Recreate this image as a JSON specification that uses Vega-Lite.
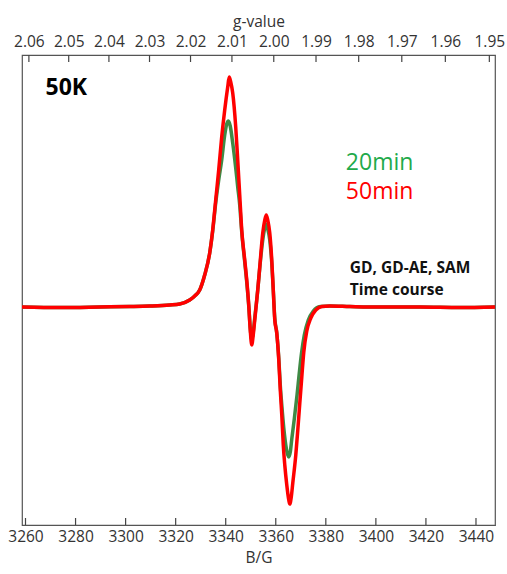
{
  "$schema": "https://vega.github.io/schema/vega-lite/v6.json",
  "width": 473,
  "height": 470,
  "autosize": "none",
  "padding": {"left": 22, "top": 55, "right": 12, "bottom": 49},
  "background": "white",
  "config": {
    "view": {"stroke": "#555", "strokeWidth": 1.2},
    "font": "Open Sans",
    "axis": {"labelFont": "Open Sans", "titleFont": "Open Sans", "labelFontSize": 15.5, "titleFontSize": 15.5, "titleFontWeight": "normal", "labelColor": "#333", "titleColor": "#333", "domainColor": "#555", "ticks": false, "grid": false}
  },
  "datasets": {
    "spec": [
      {"B": 3258.6, "y": 0, "s": "20min"}, {"B": 3273.6, "y": -0.5, "s": "20min"}, {"B": 3289.6, "y": 0, "s": "20min"}, {"B": 3301.6, "y": 0.5, "s": "20min"}, {"B": 3309.6, "y": 1, "s": "20min"}, {"B": 3317.6, "y": 2, "s": "20min"}, {"B": 3321.6, "y": 3, "s": "20min"}, {"B": 3325.6, "y": 7, "s": "20min"}, {"B": 3327.6, "y": 11, "s": "20min"}, {"B": 3329.6, "y": 17, "s": "20min"}, {"B": 3331.6, "y": 32, "s": "20min"}, {"B": 3333.6, "y": 54, "s": "20min"},
      {"B": 3334.8, "y": 76, "s": "20min"}, {"B": 3336.0, "y": 104, "s": "20min"}, {"B": 3337.2, "y": 127, "s": "20min"}, {"B": 3338.4, "y": 147, "s": "20min"}, {"B": 3339.6, "y": 172, "s": "20min"}, {"B": 3340.4, "y": 183, "s": "20min"}, {"B": 3341.1, "y": 186, "s": "20min"}, {"B": 3341.8, "y": 181, "s": "20min"}, {"B": 3342.8, "y": 164, "s": "20min"}, {"B": 3344.0, "y": 139, "s": "20min"}, {"B": 3344.8, "y": 120, "s": "20min"}, {"B": 3345.6, "y": 102, "s": "20min"}, {"B": 3346.4, "y": 75, "s": "20min"}, {"B": 3347.6, "y": 45, "s": "20min"}, {"B": 3348.4, "y": 25, "s": "20min"}, {"B": 3349.2, "y": 1, "s": "20min"}, {"B": 3349.8, "y": -21, "s": "20min"}, {"B": 3350.4, "y": -33, "s": "20min"}, {"B": 3351.0, "y": -25, "s": "20min"}, {"B": 3351.6, "y": -11, "s": "20min"}, {"B": 3352.8, "y": 17, "s": "20min"}, {"B": 3353.6, "y": 39, "s": "20min"}, {"B": 3354.8, "y": 67, "s": "20min"}, {"B": 3355.6, "y": 79, "s": "20min"}, {"B": 3356.2, "y": 83, "s": "20min"}, {"B": 3356.8, "y": 78, "s": "20min"}, {"B": 3357.6, "y": 67, "s": "20min"}, {"B": 3358.4, "y": 44, "s": "20min"}, {"B": 3359.0, "y": 17, "s": "20min"}, {"B": 3359.6, "y": -11, "s": "20min"}, {"B": 3360.4, "y": -26, "s": "20min"}, {"B": 3361.2, "y": -51, "s": "20min"}, {"B": 3361.8, "y": -78, "s": "20min"}, {"B": 3362.4, "y": -98, "s": "20min"}, {"B": 3363.2, "y": -121, "s": "20min"}, {"B": 3364.0, "y": -138, "s": "20min"}, {"B": 3364.8, "y": -148, "s": "20min"}, {"B": 3365.2, "y": -150, "s": "20min"}, {"B": 3365.8, "y": -145, "s": "20min"}, {"B": 3366.4, "y": -132, "s": "20min"}, {"B": 3367.4, "y": -112, "s": "20min"}, {"B": 3368.5, "y": -88, "s": "20min"}, {"B": 3369.4, "y": -66, "s": "20min"}, {"B": 3370.3, "y": -46, "s": "20min"}, {"B": 3371.4, "y": -28, "s": "20min"}, {"B": 3373.0, "y": -13, "s": "20min"}, {"B": 3375.0, "y": -4, "s": "20min"}, {"B": 3377.8, "y": 0.5, "s": "20min"}, {"B": 3381.6, "y": 1, "s": "20min"}, {"B": 3389.6, "y": 0.5, "s": "20min"}, {"B": 3401.6, "y": 0, "s": "20min"}, {"B": 3417.6, "y": 0, "s": "20min"}, {"B": 3433.6, "y": -0.5, "s": "20min"}, {"B": 3447.6, "y": 0, "s": "20min"},

      {"B": 3258.6, "y": 0, "s": "50min"}, {"B": 3273.6, "y": -0.5, "s": "50min"}, {"B": 3289.6, "y": 0, "s": "50min"}, {"B": 3301.6, "y": 0.5, "s": "50min"}, {"B": 3309.6, "y": 1, "s": "50min"}, {"B": 3317.6, "y": 2, "s": "50min"}, {"B": 3321.6, "y": 3, "s": "50min"}, {"B": 3325.6, "y": 7, "s": "50min"}, {"B": 3327.6, "y": 11, "s": "50min"}, {"B": 3329.6, "y": 17, "s": "50min"}, {"B": 3331.6, "y": 32, "s": "50min"}, {"B": 3333.6, "y": 54, "s": "50min"}, {"B": 3334.8, "y": 77, "s": "50min"}, {"B": 3336.0, "y": 107, "s": "50min"}, {"B": 3337.2, "y": 137, "s": "50min"}, {"B": 3338.4, "y": 170, "s": "50min"}, {"B": 3339.6, "y": 197, "s": "50min"}, {"B": 3340.8, "y": 220, "s": "50min"}, {"B": 3341.4, "y": 230, "s": "50min"}, {"B": 3342.0, "y": 225, "s": "50min"}, {"B": 3342.8, "y": 214, "s": "50min"}, {"B": 3344.0, "y": 180, "s": "50min"}, {"B": 3344.8, "y": 147, "s": "50min"}, {"B": 3345.6, "y": 112, "s": "50min"}, {"B": 3346.4, "y": 77, "s": "50min"}, {"B": 3347.6, "y": 47, "s": "50min"}, {"B": 3348.4, "y": 27, "s": "50min"}, {"B": 3349.2, "y": 2, "s": "50min"}, {"B": 3349.8, "y": -23, "s": "50min"}, {"B": 3350.4, "y": -38, "s": "50min"}, {"B": 3351.0, "y": -28, "s": "50min"}, {"B": 3351.6, "y": -13, "s": "50min"}, {"B": 3352.8, "y": 17, "s": "50min"}, {"B": 3353.6, "y": 40, "s": "50min"}, {"B": 3354.8, "y": 74, "s": "50min"}, {"B": 3355.6, "y": 87, "s": "50min"}, {"B": 3356.2, "y": 92, "s": "50min"}, {"B": 3356.8, "y": 87, "s": "50min"}, {"B": 3357.6, "y": 74, "s": "50min"}, {"B": 3358.4, "y": 47, "s": "50min"}, {"B": 3359.0, "y": 17, "s": "50min"}, {"B": 3359.6, "y": -13, "s": "50min"}, {"B": 3360.4, "y": -26, "s": "50min"}, {"B": 3361.2, "y": -53, "s": "50min"}, {"B": 3361.8, "y": -83, "s": "50min"}, {"B": 3362.4, "y": -108, "s": "50min"}, {"B": 3363.0, "y": -138, "s": "50min"}, {"B": 3363.6, "y": -158, "s": "50min"}, {"B": 3364.4, "y": -178, "s": "50min"}, {"B": 3365.2, "y": -193, "s": "50min"}, {"B": 3365.6, "y": -197, "s": "50min"}, {"B": 3366.2, "y": -190, "s": "50min"}, {"B": 3366.8, "y": -176, "s": "50min"}, {"B": 3368.0, "y": -148, "s": "50min"}, {"B": 3368.8, "y": -123, "s": "50min"}, {"B": 3369.6, "y": -96, "s": "50min"}, {"B": 3370.4, "y": -70, "s": "50min"}, {"B": 3371.2, "y": -45, "s": "50min"}, {"B": 3372.4, "y": -24, "s": "50min"}, {"B": 3374.0, "y": -11, "s": "50min"}, {"B": 3376.0, "y": -3, "s": "50min"}, {"B": 3378.4, "y": 0.5, "s": "50min"}, {"B": 3381.6, "y": 1, "s": "50min"}, {"B": 3389.6, "y": 0.5, "s": "50min"}, {"B": 3401.6, "y": 0, "s": "50min"}, {"B": 3417.6, "y": 0, "s": "50min"}, {"B": 3433.6, "y": -0.5, "s": "50min"}, {"B": 3447.6, "y": 0, "s": "50min"}
    ]
  },
  "layer": [
    {
      "layer": [
        {
          "data": {"name": "spec"},
          "transform": [{"filter": "datum.s === '20min'"}],
          "mark": {"type": "line", "color": "#3f8a45", "strokeWidth": 3.5, "interpolate": "monotone"},
          "encoding": {
            "x": {"field": "B", "type": "quantitative", "scale": {"domain": [3258.6, 3447.6], "nice": false, "zero": false},
              "axis": {"title": "B/G", "orient": "bottom", "values": [3260, 3280, 3300, 3320, 3340, 3360, 3380, 3400, 3420, 3440], "format": "d", "labelPadding": 4, "titlePadding": 6}},
            "y": {"field": "y", "type": "quantitative", "scale": {"domain": [-218, 252], "nice": false, "zero": false}, "axis": null}
          }
        },
        {
          "data": {"name": "spec"},
          "transform": [{"filter": "datum.s === '50min'"}],
          "mark": {"type": "line", "color": "#ff0000", "strokeWidth": 3.5, "interpolate": "monotone"},
          "encoding": {
            "x": {"field": "B", "type": "quantitative"},
            "y": {"field": "y", "type": "quantitative"}
          }
        },
        {
          "data": {"values": [{"B": 3260}, {"B": 3280}, {"B": 3300}, {"B": 3320}, {"B": 3340}, {"B": 3360}, {"B": 3380}, {"B": 3400}, {"B": 3420}, {"B": 3440}]},
          "mark": {"type": "rule", "color": "#444", "strokeWidth": 1.2},
          "encoding": {"x": {"field": "B", "type": "quantitative"}, "y": {"datum": -218}, "y2": {"datum": -211}}
        },
        {
          "data": {"values": [{"B": 3268.0, "y": 219, "t": "50K"}]},
          "mark": {"type": "text", "align": "left", "baseline": "middle", "fontSize": 23, "fontWeight": "bold", "color": "#000"},
          "encoding": {"x": {"field": "B", "type": "quantitative"}, "y": {"field": "y", "type": "quantitative"}, "text": {"field": "t"}}
        },
        {
          "data": {"values": [{"B": 3388.0, "y": 144, "t": "20min"}]},
          "mark": {"type": "text", "align": "left", "baseline": "middle", "fontSize": 23, "color": "#1faa4b"},
          "encoding": {"x": {"field": "B", "type": "quantitative"}, "y": {"field": "y", "type": "quantitative"}, "text": {"field": "t"}}
        },
        {
          "data": {"values": [{"B": 3388.0, "y": 115, "t": "50min"}]},
          "mark": {"type": "text", "align": "left", "baseline": "middle", "fontSize": 23, "color": "#ff0000"},
          "encoding": {"x": {"field": "B", "type": "quantitative"}, "y": {"field": "y", "type": "quantitative"}, "text": {"field": "t"}}
        },
        {
          "data": {"values": [{"B": 3389.6, "y": 39, "t": "GD, GD-AE, SAM"}, {"B": 3389.6, "y": 17, "t": "Time course"}]},
          "mark": {"type": "text", "align": "left", "baseline": "middle", "fontSize": 15.5, "fontWeight": "bold", "color": "#111"},
          "encoding": {"x": {"field": "B", "type": "quantitative"}, "y": {"field": "y", "type": "quantitative"}, "text": {"field": "t"}}
        }
      ]
    },
    {
      "data": {"values": [{"g": 2.06}, {"g": 2.05}, {"g": 2.04}, {"g": 2.03}, {"g": 2.02}, {"g": 2.01}, {"g": 2.0}, {"g": 1.99}, {"g": 1.98}, {"g": 1.97}, {"g": 1.96}, {"g": 1.95}]},
      "mark": {"type": "rule", "color": "#444", "strokeWidth": 1.2},
      "encoding": {
        "x": {"field": "g", "type": "quantitative", "scale": {"type": "pow", "exponent": -1, "domain": [2.06174, 1.94872], "nice": false, "zero": false},
          "axis": {"title": "g-value", "orient": "top", "values": [2.06, 2.05, 2.04, 2.03, 2.02, 2.01, 2.0, 1.99, 1.98, 1.97, 1.96, 1.95], "format": ".2f", "labelPadding": 6, "titlePadding": 5}},
        "y": {"datum": 252},
        "y2": {"datum": 245}
      }
    }
  ],
  "resolve": {"scale": {"x": "independent"}, "axis": {"x": "independent"}}
}
